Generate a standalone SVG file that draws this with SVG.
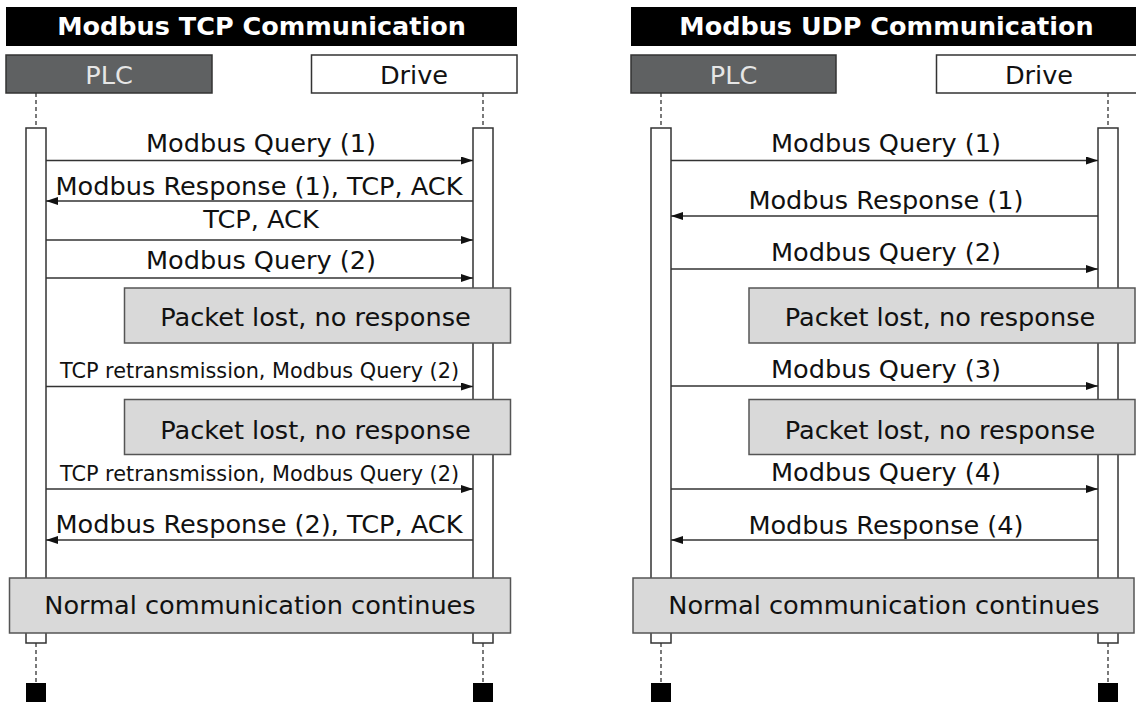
<svg xmlns="http://www.w3.org/2000/svg" width="1136" height="704" viewBox="0 0 1136 704">
<defs>
<style>
.title{font-family:"DejaVu Sans",Verdana,sans-serif;font-weight:bold;font-size:25.5px;fill:#fff;text-anchor:middle}
.lbl{font-family:"DejaVu Sans",Verdana,sans-serif;font-size:25.6px;fill:#111;text-anchor:middle}
.sm{font-family:"DejaVu Sans",Verdana,sans-serif;font-size:20.8px;fill:#111;text-anchor:middle}
.plc{fill:#5f6162;stroke:#333;stroke-width:1.5}
.plct{font-family:"DejaVu Sans",Verdana,sans-serif;font-size:25.6px;fill:#e6e6e6;text-anchor:middle}
.drv{fill:#fff;stroke:#333;stroke-width:1.5}
.life{stroke:#333;stroke-width:1.3;stroke-dasharray:4 3;fill:none}
.bar{fill:#fff;stroke:#333;stroke-width:1.5}
.note{fill:#d9d9d9;stroke:#555;stroke-width:1.5}
.msg{stroke:#333;stroke-width:1.4;fill:none;marker-end:url(#ah)}
</style>
<marker id="ah" viewBox="0 0 12 8" refX="12" refY="4" markerWidth="12" markerHeight="8" markerUnits="userSpaceOnUse" orient="auto">
<path d="M0,0 L12,4 L0,8 Z" fill="#111"/>
</marker>
</defs>

<g id="tcp-panel">
<g id="tcp-title"><rect x="6" y="7" width="511" height="39" fill="#000"/><text class="title" x="261.5" y="35">Modbus TCP Communication</text></g>
<g id="tcp-plc">
<rect class="plc" x="6" y="55" width="206" height="38"/><text class="plct" x="109" y="84">PLC</text>
<line class="life" x1="36" y1="93" x2="36" y2="128"/>
<rect class="bar" x="26" y="128" width="20" height="515"/>
<line class="life" x1="36" y1="643" x2="36" y2="683"/>
<rect x="26" y="683" width="20" height="19" fill="#000"/>
</g>
<g id="tcp-drive">
<rect class="drv" x="311.5" y="55" width="205.5" height="38"/><text class="lbl" x="414" y="84">Drive</text>
<line class="life" x1="483" y1="93" x2="483" y2="128"/>
<rect class="bar" x="473" y="128" width="20" height="515"/>
<line class="life" x1="483" y1="643" x2="483" y2="683"/>
<rect x="473" y="683" width="20" height="19" fill="#000"/>
</g>
<g id="tcp-connectors">
<line class="msg" x1="46" y1="160.5" x2="473" y2="160.5"/>
<text class="lbl" x="261" y="152">Modbus Query (1)</text>
<line class="msg" x1="473" y1="201" x2="46" y2="201"/>
<text class="lbl" x="259" y="195">Modbus Response (1), TCP, ACK</text>
<line class="msg" x1="46" y1="240" x2="473" y2="240"/>
<text class="lbl" x="261" y="228">TCP, ACK</text>
<line class="msg" x1="46" y1="278" x2="473" y2="278"/>
<text class="lbl" x="261" y="268.5">Modbus Query (2)</text>
<line class="msg" x1="46" y1="386.5" x2="473" y2="386.5"/>
<text class="sm" x="259.5" y="378">TCP retransmission, Modbus Query (2)</text>
<line class="msg" x1="46" y1="489" x2="473" y2="489"/>
<text class="sm" x="259.5" y="481">TCP retransmission, Modbus Query (2)</text>
<line class="msg" x1="473" y1="540" x2="46" y2="540"/>
<text class="lbl" x="259" y="532.5">Modbus Response (2), TCP, ACK</text>
</g>
<g id="tcp-lost1"><rect class="note" x="124.5" y="288" width="386" height="55"/><text class="lbl" x="315.5" y="326">Packet lost, no response</text></g>
<g id="tcp-lost2"><rect class="note" x="124.5" y="399.5" width="386" height="55"/><text class="lbl" x="315.5" y="438.5">Packet lost, no response</text></g>
<g id="tcp-normal"><rect class="note" x="9.5" y="578" width="501" height="55"/><text class="lbl" x="260" y="614">Normal communication continues</text></g>
</g>

<g id="udp-panel">
<g id="udp-title"><rect x="631" y="7" width="511" height="39" fill="#000"/><text class="title" x="886.5" y="35">Modbus UDP Communication</text></g>
<g id="udp-plc">
<rect class="plc" x="631" y="55" width="205" height="38"/><text class="plct" x="733.5" y="84">PLC</text>
<line class="life" x1="661" y1="93" x2="661" y2="128"/>
<rect class="bar" x="651" y="128" width="20" height="515"/>
<line class="life" x1="661" y1="643" x2="661" y2="683"/>
<rect x="651" y="683" width="20" height="19" fill="#000"/>
</g>
<g id="udp-drive">
<rect class="drv" x="936.5" y="55" width="205.5" height="38"/><text class="lbl" x="1039" y="84">Drive</text>
<line class="life" x1="1108" y1="93" x2="1108" y2="128"/>
<rect class="bar" x="1098" y="128" width="20" height="515"/>
<line class="life" x1="1108" y1="643" x2="1108" y2="683"/>
<rect x="1098" y="683" width="20" height="19" fill="#000"/>
</g>
<g id="udp-connectors">
<line class="msg" x1="671" y1="160.5" x2="1098" y2="160.5"/>
<text class="lbl" x="886" y="152">Modbus Query (1)</text>
<line class="msg" x1="1098" y1="216" x2="671" y2="216"/>
<text class="lbl" x="886" y="208.5">Modbus Response (1)</text>
<line class="msg" x1="671" y1="269" x2="1098" y2="269"/>
<text class="lbl" x="886" y="260.5">Modbus Query (2)</text>
<line class="msg" x1="671" y1="386" x2="1098" y2="386"/>
<text class="lbl" x="886" y="377.5">Modbus Query (3)</text>
<line class="msg" x1="671" y1="489" x2="1098" y2="489"/>
<text class="lbl" x="886" y="480.5">Modbus Query (4)</text>
<line class="msg" x1="1098" y1="540" x2="671" y2="540"/>
<text class="lbl" x="886" y="534">Modbus Response (4)</text>
</g>
<g id="udp-lost1"><rect class="note" x="749" y="288" width="386" height="55"/><text class="lbl" x="940" y="326">Packet lost, no response</text></g>
<g id="udp-lost2"><rect class="note" x="749" y="399.5" width="386" height="55"/><text class="lbl" x="940" y="438.5">Packet lost, no response</text></g>
<g id="udp-normal"><rect class="note" x="633" y="578" width="501" height="55"/><text class="lbl" x="884" y="614">Normal communication continues</text></g>
</g>
</svg>
